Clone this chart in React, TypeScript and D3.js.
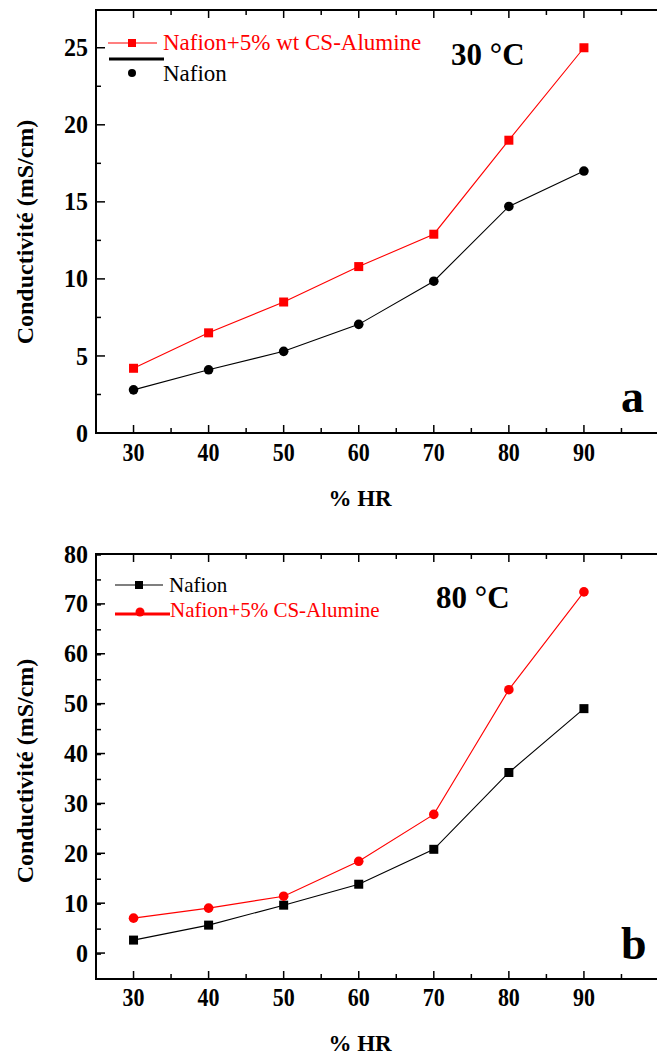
import React from "react";
import * as d3 from "d3";

const hr = [30, 40, 50, 60, 70, 80, 90];
const xTicks = [30, 40, 50, 60, 70, 80, 90];

// Panel a (30 °C)
const aComposite = [4.2, 6.5, 8.5, 10.8, 12.9, 19.0, 25.0];
const aNafion = [2.8, 4.1, 5.3, 7.05, 9.85, 14.7, 17.0];
const aYTicks = [0, 5, 10, 15, 20, 25];

// Panel b (80 °C)
const bNafion = [2.6, 5.6, 9.6, 13.8, 20.8, 36.2, 49.0];
const bComposite = [7.0, 9.0, 11.4, 18.4, 27.8, 52.8, 72.4];
const bYTicks = [0, 10, 20, 30, 40, 50, 60, 70, 80];

const W = 657;
const H = 1057;
const FONT = "'Liberation Serif', 'Times New Roman', serif";

type Series = { values: number[]; color: string; marker: "square" | "circle" };

function Panel(props: {
  top: number;
  bottom: number;
  yDomain: [number, number];
  yTicks: number[];
  yMinorStep: number;
  series: Series[];
  xLabelY: number;
  xTitleY: number;
  yTitleCenter: number;
  children?: React.ReactNode;
}) {
  const { top, bottom, yDomain, yTicks, yMinorStep, series, xLabelY, xTitleY, yTitleCenter } = props;
  const x = d3.scaleLinear().domain([25, 100]).range([96, 659]);
  const y = d3.scaleLinear().domain(yDomain).range([bottom, top]);
  const line = d3
    .line<number>()
    .x((_, i) => x(hr[i]))
    .y((d) => y(d));
  const xMinor = d3.range(35, 100, 10);
  const yMinor = d3
    .range(yDomain[0], yDomain[1] + 0.001, yMinorStep)
    .filter((v) => !yTicks.includes(v) && v > yDomain[0] && v < yDomain[1]);
  return (
    <g>
      {series.map((s, si) => (
        <g key={si}>
          <path d={line(s.values) || ""} fill="none" stroke={s.color} strokeWidth={1.1} />
          {s.values.map((v, i) =>
            s.marker === "square" ? (
              <rect key={i} x={x(hr[i]) - 4.5} y={y(v) - 4.5} width={9} height={9} fill={s.color} />
            ) : (
              <circle key={i} cx={x(hr[i])} cy={y(v)} r={4.8} fill={s.color} />
            )
          )}
        </g>
      ))}
      <rect x={96} y={top} width={563} height={bottom - top} fill="none" stroke="#000" strokeWidth={2} />
      {xTicks.map((t) => (
        <g key={"xt" + t}>
          <line x1={x(t)} x2={x(t)} y1={bottom} y2={bottom - 8} stroke="#000" strokeWidth={1.5} />
          <line x1={x(t)} x2={x(t)} y1={top} y2={top + 8} stroke="#000" strokeWidth={1.5} />
          <text
            transform={`translate(${x(t)},${xLabelY}) scale(1,1.15)`}
            textAnchor="middle"
            fontFamily={FONT}
            fontWeight="bold"
            fontSize={22}
          >
            {t}
          </text>
        </g>
      ))}
      {xMinor.map((t) => (
        <g key={"xm" + t}>
          <line x1={x(t)} x2={x(t)} y1={bottom} y2={bottom - 5} stroke="#000" strokeWidth={1.5} />
          <line x1={x(t)} x2={x(t)} y1={top} y2={top + 5} stroke="#000" strokeWidth={1.5} />
        </g>
      ))}
      {yTicks.map((t) => (
        <g key={"yt" + t}>
          <line x1={96} x2={105} y1={y(t)} y2={y(t)} stroke="#000" strokeWidth={1.5} />
          <text
            transform={`translate(88,${y(t)}) scale(1,1.08)`}
            dy="0.33em"
            textAnchor="end"
            fontFamily={FONT}
            fontWeight="bold"
            fontSize={24}
          >
            {t}
          </text>
        </g>
      ))}
      {yMinor.map((t) => (
        <line key={"ym" + t} x1={96} x2={101} y1={y(t)} y2={y(t)} stroke="#000" strokeWidth={1.5} />
      ))}
      <text
        transform={`translate(33,${yTitleCenter}) rotate(-90)`}
        textAnchor="middle"
        fontFamily={FONT}
        fontWeight="bold"
        fontSize={24}
      >
        Conductivité (mS/cm)
      </text>
      <text x={360} y={xTitleY} textAnchor="middle" fontFamily={FONT} fontWeight="bold" fontSize={23}>
        % HR
      </text>
      {props.children}
    </g>
  );
}

export default function App() {
  return (
    <svg
      width={W}
      height={H}
      viewBox={`0 0 ${W} ${H}`}
      style={{ position: "absolute", left: 0, top: 0, background: "#fff" }}
    >
      <rect width={W} height={H} fill="#fff" />
      <Panel
        top={10}
        bottom={433}
        yDomain={[0, 27.45]}
        yTicks={aYTicks}
        yMinorStep={2.5}
        series={[
          { values: aComposite, color: "#ff0000", marker: "square" },
          { values: aNafion, color: "#000000", marker: "circle" },
        ]}
        xLabelY={461}
        xTitleY={506}
        yTitleCenter={232}
      >
        <line x1={108} x2={157} y1={43} y2={43} stroke="#ff0000" strokeWidth={1.1} />
        <rect x={128} y={39} width={8} height={8} fill="#ff0000" />
        <text x={163} y={50} fontFamily={FONT} fontSize={23} fill="#ff0000">
          Nafion+5% wt CS-Alumine
        </text>
        <line x1={109} x2={164} y1={59} y2={59} stroke="#000" strokeWidth={3} />
        <circle cx={132} cy={73} r={4} fill="#000" />
        <text x={163} y={81} fontFamily={FONT} fontSize={23} fill="#000">
          Nafion
        </text>
        <text x={451} y={65} fontFamily={FONT} fontWeight="bold" fontSize={31}>
          30 °C
        </text>
        <text x={621} y={412} fontFamily={FONT} fontWeight="bold" fontSize={46}>
          a
        </text>
      </Panel>
      <Panel
        top={554}
        bottom={979}
        yDomain={[-5.2, 80]}
        yTicks={bYTicks}
        yMinorStep={5}
        series={[
          { values: bNafion, color: "#000000", marker: "square" },
          { values: bComposite, color: "#ff0000", marker: "circle" },
        ]}
        xLabelY={1006}
        xTitleY={1051}
        yTitleCenter={771}
      >
        <line x1={115} x2={163} y1={585} y2={585} stroke="#000" strokeWidth={1.1} />
        <rect x={135} y={581} width={8} height={8} fill="#000" />
        <text x={169} y={592} fontFamily={FONT} fontSize={21} fill="#000">
          Nafion
        </text>
        <line x1={115} x2={170} y1={614} y2={614} stroke="#ff0000" strokeWidth={3} />
        <circle cx={140} cy={612} r={4.5} fill="#ff0000" />
        <text x={170} y={617} fontFamily={FONT} fontSize={21} fill="#ff0000">
          Nafion+5% CS-Alumine
        </text>
        <text x={436} y={608} fontFamily={FONT} fontWeight="bold" fontSize={31}>
          80 °C
        </text>
        <text x={621} y={959} fontFamily={FONT} fontWeight="bold" fontSize={46}>
          b
        </text>
      </Panel>
    </svg>
  );
}
